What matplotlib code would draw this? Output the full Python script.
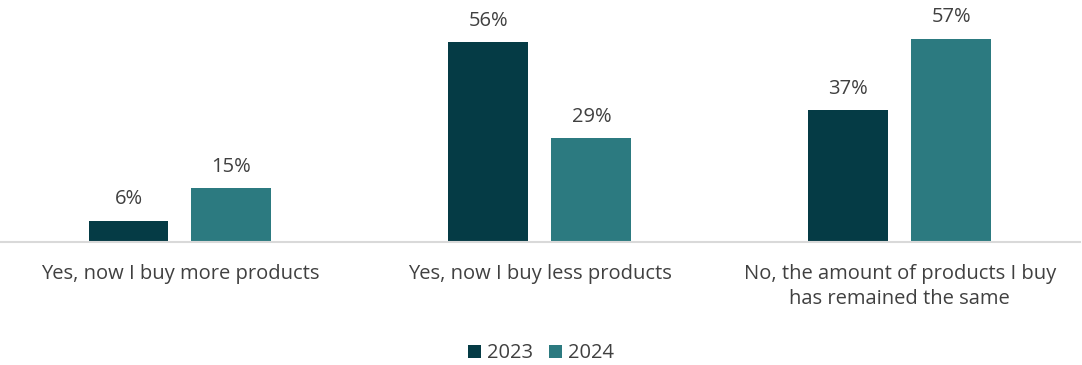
import numpy as np
import matplotlib.pyplot as plt

# Respuestas por categoria y año (porcentaje)
categories = ['Yes, now I buy more products',
              'Yes, now I buy less products',
              'No, the amount of products I buy\nhas remained the same']
years = ['2023', '2024']
values_2023 = [6, 56, 37]
values_2024 = [15, 29, 57]

colors = ['#053b45', '#2c7a80']
text_color = '#404040'

plt.rcParams['font.family'] = ['Open Sans', 'DejaVu Sans']

fig = plt.figure(figsize=(10.82, 3.65), dpi=100)
ax = fig.add_axes([0.0, 0.337, 0.998, 0.663])

x = np.arange(len(categories))
width = 0.222
offset = 0.143

for i, (vals, year) in enumerate(zip([values_2023, values_2024], years)):
    pos = x + (-offset if i == 0 else offset)
    bars = ax.bar(pos, vals, width=width, color=colors[i], label=year, zorder=2)
    for b, v in zip(bars, vals):
        ax.annotate(f'{v}%', (b.get_x() + b.get_width() / 2, v),
                    xytext=(0, 8), textcoords='offset points',
                    ha='center', va='bottom', fontsize=14.5, color=text_color)

ax.set_xlim(-0.5, len(categories) - 0.5)
ax.set_ylim(0, 67.8)
ax.set_yticks([])
ax.set_xticks(x)
ax.set_xticklabels(categories, fontsize=14.5, color=text_color, linespacing=1.32)
ax.tick_params(axis='x', length=0, pad=16)

for s in ['top', 'right', 'left']:
    ax.spines[s].set_visible(False)
ax.spines['bottom'].set_color('#d9d9d9')
ax.spines['bottom'].set_linewidth(1.5)

leg = fig.legend(loc='center', bbox_to_anchor=(0.5, 0.032), ncol=2, frameon=False,
                 fontsize=14.5, handlelength=0.65, handleheight=0.65,
                 handletextpad=0.3, columnspacing=0.8)
for t in leg.get_texts():
    t.set_color(text_color)

plt.savefig('out.png', dpi=100)
